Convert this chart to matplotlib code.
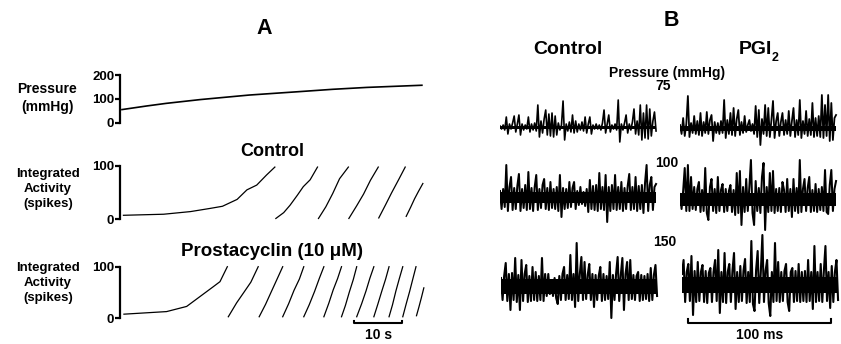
import numpy as np
import matplotlib
matplotlib.use("Agg")
import matplotlib.pyplot as plt

plt.rcParams['font.family'] = ['Liberation Sans', 'DejaVu Sans']
plt.rcParams['font.weight'] = 'bold'

W, H = 841, 344

# ---- Panel A data (time in s) ----
press_t = [0, 5, 9, 16, 26, 36, 43, 50, 61.2]
press_v = [55, 70, 81, 97, 116, 130, 140, 148, 157]

ctrl_t = [[0.3, 8.5, 14, 18, 20.5, 23.5, 25.5, 27.5, 29.5, 31.2],
          [31.4, 33.0, 34.3, 35.8, 37.0, 38.4, 39.9],
          [40.1, 41.6, 43.0, 44.4, 46.2],
          [46.3, 47.9, 49.3, 50.7, 52.3],
          [52.4, 53.8, 55.0, 56.5, 57.8],
          [58.0, 58.9, 59.7, 60.5, 61.4]]
ctrl_v = [[7, 9, 14, 20, 24, 37, 55, 64, 83, 98],
          [1, 12, 26, 45, 61, 74, 98],
          [1, 23, 48, 76, 98],
          [1, 25, 47, 73, 98],
          [2, 27, 49, 75, 98],
          [5, 22, 38, 52, 67]]

pgi_t = [[0.4, 9.1, 13.2, 15.9, 18.6, 20.0, 21.5],
         [21.7, 23.4, 25.0, 26.3, 27.8],
         [28.0, 29.3, 30.4, 31.7, 32.8],
         [32.8, 34.0, 35.1, 36.2, 37.1],
         [37.1, 38.2, 39.3, 40.3, 41.2],
         [41.2, 42.2, 43.1, 44.0, 44.8],
         [44.8, 45.6, 46.4, 47.2, 47.9],
         [47.9, 48.9, 49.8, 50.6, 51.4],
         [51.4, 52.2, 53.0, 53.8, 54.5],
         [54.5, 55.2, 55.9, 56.6, 57.3],
         [57.3, 58.0, 58.7, 59.4, 60.0],
         [60.1, 60.6, 61.1, 61.6]]
pgi_v = [[8, 13, 23, 42, 61, 71, 100],
         [3, 30, 52, 70, 100],
         [3, 27, 50, 77, 100],
         [3, 28, 54, 76, 100],
         [3, 26, 52, 78, 100],
         [3, 29, 55, 77, 100],
         [3, 25, 51, 75, 100],
         [3, 28, 53, 78, 100],
         [3, 27, 52, 76, 100],
         [3, 26, 53, 77, 100],
         [3, 28, 52, 78, 100],
         [5, 22, 40, 59]]

# ---- Panel B data (nerve recordings, 1.1 ms per sample) ----
dt_ms = 1.1
b75_ctrl = [1, -2, 2, -3, 10, -7, 3, -2, 4, 11, -5, 3, 12, -8, 3, -3, 2, -2, 10, -5,
            3, -3, 4, -4, 22, -10, 6, -6, 8, 17, -8, 13, -9, 14, -10, 11, -8, 4, -3, 2,
            26, -13, 3, -4, 5, -5, 12, -6, 6, -5, 3, -3, 5, -4, 10, -6, 3, 10, -7, 2,
            -2, 3, -2, 2, -3, 4, 17, -6, 3, 12, -5, 2, -2, 3, -3, 27, -15, 3, -3, 4,
            12, -6, 3, -3, 5, 18, -7, 6, -8, 22, -13, 14, -11, 22, -12, 18, -9, 6, 15, -4]
b75_pgi = [3, -6, 10, -8, 4, 32, -9, 5, -5, 12, -6, 7, -7, 15, -8, 6, -5, 16, -6, 8,
           13, -13, 6, -5, 5, -6, 7, -5, 28, -10, 8, -6, 15, -7, 20, -8, 9, 18, -7, 6,
           -5, 12, -4, 3, 8, -3, 4, -6, 22, -9, 18, -17, 9, -6, 23, -8, 20, -9, 8, 27,
           -10, 7, 15, -8, 6, 15, -7, 8, -6, 17, -8, 7, 20, -9, 8, -7, 28, -10, 7, -6,
           17, -8, 9, -7, 25, -9, 10, -8, 12, -9, 33, -10, 23, -8, 33, -13, 25, -12, 10, 13]
b100_ctrl = [6, -12, 8, -10, 32, -14, 10, 20, -13, 9, -12, 11, 23, -14, 8, -11, 12, -13, 25, -12,
             9, -14, 10, 22, -13, 8, -11, 12, 18, -12, 9, -13, 15, -11, 8, -12, 10, -14, 22, -20,
             9, -12, 8, -11, 15, -10, 9, 15, -12, 6, -8, 10, -7, 5, -9, 8, -15, 17, -12, 11,
             -13, 12, -14, 24, -12, 10, -13, 22, -25, 10, -14, 12, -12, 22, -13, 10, -12, 15, -14, 9,
             -12, 11, 23, -13, 10, -12, 20, -14, 11, -12, 12, -16, 14, 32, -14, 12, 20, -13, 10, 13]
b100_pgi = [5, -10, 8, 31, -12, 34, -12, 22, -10, 12, -11, 10, 17, -13, 9, -12, 31, -14, -21, 12,
            20, -12, 10, -14, 22, -12, 9, 15, -13, 10, -12, 8, 14, -13, 9, -16, 26, -14, 28, -26,
            12, -13, 20, -12, 12, 39, -14, -26, 18, -12, 11, -14, 22, 36, -31, 12, -13, 26, -12, 28,
            -14, 10, -12, 11, -13, 17, 9, -13, 20, -12, 10, -18, 20, -12, 11, -14, 39, -13, 10, 20,
            -12, 11, 22, -13, 9, -12, 15, -13, 10, -11, 12, -12, 29, -13, -15, 14, 29, -12, 10, 18]
b150_ctrl = [8, -14, 10, 23, -15, 12, -24, 13, -14, 28, -16, 11, -24, 26, -15, 12, 21, -16, 10, -15,
             19, -14, 14, -15, 10, -14, 28, -15, 12, -10, 12, -8, 6, -10, 8, -12, -18, 10, -14, 12,
             19, -14, 11, -13, 31, -14, 12, -21, 43, -15, 12, 29, -14, 24, -13, 11, 22, -14, 12, -21,
             11, -14, 10, 19, -15, 12, -14, 10, -13, 24, -32, 11, -14, 12, 29, -15, 11, 28, -24, 12,
             24, -14, 26, -13, 11, -14, 10, 14, -15, 11, -14, 10, -13, 12, -15, 18, -14, 11, 21, -10]
b150_pgi = [10, 24, -18, 12, 20, -17, 28, -31, 13, -18, 22, -17, 12, 19, -18, 13, -19, 11, 16, -18,
            12, 24, -17, 34, -29, 12, -18, 31, -19, 12, 20, -18, 13, 31, -25, 12, -18, 18, -17, 13,
            25, -19, 12, -18, 43, -20, -27, 14, 33, -19, 12, 49, -18, 13, 24, -19, -32, 12, -18, 41,
            -17, 22, -18, 12, -17, 13, 20, -18, -27, 12, 16, -18, 13, -17, 20, -18, 12, -17, 13, -18,
            24, -17, 12, -25, 38, -18, 12, -17, 20, -18, 13, 38, -17, 12, -24, 18, -18, 12, 24, -16]
# solid background-noise core (upper, lower) of each recording, same units
noise_hi = [1.5, 2.5, 5, 6, 7, 7.5]
noise_lo = [-1.5, -3, -6, -6.5, -8, -9]


def px_axes(x0, y0, w, h):
    ax = fig.add_axes([x0 / W, 1 - (y0 + h) / H, w / W, h / H])
    ax.patch.set_visible(False)
    return ax


def ftext(x, y, s, size, **kw):
    fig.text(x / W, 1 - y / H, s, fontsize=size, fontweight='bold',
             ha=kw.pop('ha', 'center'), va=kw.pop('va', 'center'), **kw)


def bracket_axis(ax, ticks, labels):
    for s in ['top', 'right', 'bottom']:
        ax.spines[s].set_visible(False)
    ax.spines['left'].set_linewidth(1.6)
    ax.set_xticks([])
    ax.set_yticks(ticks)
    ax.set_yticklabels(labels, fontsize=9.5, fontweight='bold')
    ax.tick_params(axis='y', length=3.5, width=1.6, pad=1)


fig = plt.figure(figsize=(W / 100, H / 100), dpi=100)

# ---- Panel A ----
ftext(264, 28, 'A', 15.5)
ax_l, ax_w = 120.5, 305.3
t_lim = (-0.3, 62.0)

axp = px_axes(ax_l, 75, ax_w, 47.7)
axp.plot(press_t, press_v, color='black', lw=1.2, clip_on=False)
axp.set_xlim(*t_lim)
axp.set_ylim(0, 200)
bracket_axis(axp, [0, 100, 200], ['0', '100', '200'])
ftext(47, 98, 'Pressure\n(mmHg)', 10, linespacing=1.3)

axc = px_axes(ax_l, 166, ax_w, 53)
for tt, vv in zip(ctrl_t, ctrl_v):
    axc.plot(tt, vv, color='black', lw=0.9, clip_on=False)
axc.set_xlim(*t_lim)
axc.set_ylim(0, 100)
bracket_axis(axc, [0, 100], ['0', '100'])
ftext(272, 151, 'Control', 13)
ftext(48, 189, 'Integrated\nActivity\n(spikes)', 9.5, linespacing=1.35)

axg = px_axes(ax_l, 266.7, ax_w, 51.6)
for tt, vv in zip(pgi_t, pgi_v):
    axg.plot(tt, vv, color='black', lw=0.9, clip_on=False)
axg.set_xlim(*t_lim)
axg.set_ylim(0, 100)
bracket_axis(axg, [0, 100], ['0', '100'])
ftext(272, 251, 'Prostacyclin (10 μM)', 13.5)
ftext(48, 283, 'Integrated\nActivity\n(spikes)', 9.5, linespacing=1.35)

# 10 s scale bar
axg.plot([47.3, 47.3, 57.2, 57.2], [-5, -9.7, -9.7, -5], color='black', lw=1.5, clip_on=False)
axg.text(52.3, -32, '10 s', ha='center', va='center', fontsize=10, fontweight='bold')

# ---- Panel B ----
ftext(671, 21, 'B', 15.5)
ftext(568, 49, 'Control', 14)
ftext(755, 49, 'PGI', 14)
ftext(775, 58, '2', 9)
ftext(667, 73, 'Pressure (mmHg)', 10)
ftext(663, 86, '75', 10)
ftext(667, 163, '100', 10)
ftext(665, 242, '150', 10)

ms_px = 1.433
traces = [(b75_ctrl, 500, 127, 1.2), (b75_pgi, 680, 128, 1.3),
          (b100_ctrl, 500, 197, 1.45), (b100_pgi, 680, 199, 1.45),
          (b150_ctrl, 501, 286, 1.5), (b150_pgi, 682, 284, 1.5)]
trace_axes = []
for k, (vals, x0, yb, lw) in enumerate(traces):
    ax = px_axes(x0, yb - 55, 112 * ms_px, 100)
    v = np.asarray(vals, dtype=float)
    t = np.arange(len(v)) * dt_ms
    ax.fill_between([t[0], t[-1]], noise_lo[k], noise_hi[k], color='black', lw=0)
    ax.plot(t, v, color='black', lw=lw, solid_joinstyle='round')
    ax.set_xlim(0, 112)
    ax.set_ylim(-45, 55)
    ax.axis('off')
    trace_axes.append(ax)

axs = trace_axes[-1]
x_a, x_b = (687.7 - 682) / ms_px, (831 - 682) / ms_px
axs.plot([x_a, x_a, x_b, x_b], [-35, -39.3, -39.3, -35], color='black', lw=1.5, clip_on=False)
axs.text((x_a + x_b) / 2, -51, '100 ms', ha='center', va='center', fontsize=10, fontweight='bold')

fig.savefig('out.png', dpi=100)
